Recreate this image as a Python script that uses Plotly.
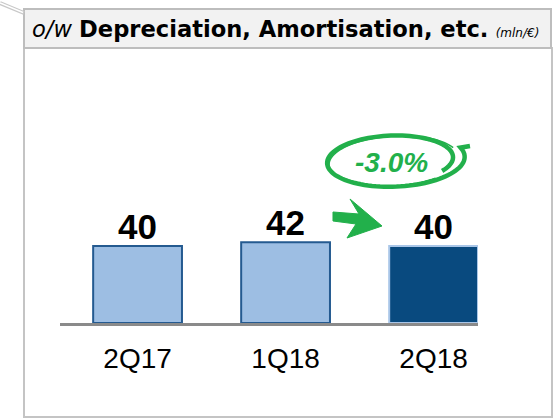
import numpy as np
import plotly.graph_objects as go

# ---- data ----
categories = ["2Q17", "1Q18", "2Q18"]
values = [40, 42, 40]
change_label = "-3.0%"
title_prefix = "o/w"
title_main = "Depreciation, Amortisation, etc."
title_unit = "(mln/€)"

W, H = 558, 419

def px(x):
    return x / W

def py(y):
    return 1 - y / H

light_fill = "#9dbee3"
light_line = "#245a90"
dark_fill = "#094a7f"
dark_line = "#a9c6e8"
green = "#22b04b"

bar_fill = [light_fill, light_fill, dark_fill]
bar_line = [light_line, light_line, dark_line]

fig = go.Figure()
fig.add_trace(go.Bar(
    x=categories, y=values, width=0.6,
    marker=dict(color=bar_fill, line=dict(color=bar_line, width=2)),
    hoverinfo="skip", showlegend=False,
))

# value labels
for c, v in zip(categories, values):
    fig.add_annotation(x=c, y=v, xref="x", yref="y", text=f"<b>{v}</b>",
                       showarrow=False, yanchor="bottom", yshift=-2,
                       font=dict(family="Liberation Sans, Arial", size=35, color="#000000"))

shapes = []
# outer frame
shapes.append(dict(type="rect", xref="paper", yref="paper",
                   x0=px(24), x1=px(552), y0=py(417), y1=py(48),
                   line=dict(color="#c4c4c4", width=2), fillcolor="rgba(0,0,0,0)", layer="below"))
# title box
shapes.append(dict(type="rect", xref="paper", yref="paper",
                   x0=px(24), x1=px(551), y0=py(48), y1=py(9),
                   line=dict(color="#bdbdbd", width=2), fillcolor="#f2f2f2", layer="below"))
# callout line
shapes.append(dict(type="line", xref="paper", yref="paper",
                   x0=px(0), y0=py(3), x1=px(24), y1=py(13),
                   line=dict(color="#c8c8c8", width=4)))
shapes.append(dict(type="line", xref="paper", yref="paper",
                   x0=px(0), y0=py(3), x1=px(23), y1=py(12.5),
                   line=dict(color="#ffffff", width=1.5)))

# green arrow (block arrow)
arrow_pts = [(333, 212), (359, 214), (350, 199), (382, 226), (347, 238), (356, 224), (333, 221)]
path = "M " + " L ".join(f"{px(x):.5f},{py(y):.5f}" for x, y in arrow_pts) + " Z"
shapes.append(dict(type="path", xref="paper", yref="paper", path=path,
                   fillcolor=green, line=dict(color=green, width=1)))

# hand-drawn ellipse around the change label
def ellipse_pts(cx, cy, rx, ry, rot, t0, t1, n=120, f0=1.0, f1=1.0):
    ts = np.linspace(t0, t1, n)
    pts = []
    for i, t in enumerate(ts):
        f = f0 + (f1 - f0) * i / (n - 1)
        ex, ey = rx * f * np.cos(t), ry * f * np.sin(t)
        x = cx + ex * np.cos(rot) - ey * np.sin(rot)
        y = cy + ex * np.sin(rot) + ey * np.cos(rot)
        pts.append((x, y))
    return pts

def to_path(pts):
    return "M " + " L ".join(f"{px(x):.5f},{py(y):.5f}" for x, y in pts)

main = ellipse_pts(393, 160, 67, 26, -0.04, 2 * np.pi + 0.6, -0.35, f0=0.88, f1=1.08)
main.append((470, 146))
shapes.append(dict(type="path", xref="paper", yref="paper", path=to_path(main),
                   line=dict(color=green, width=4.5)))
second = ellipse_pts(394, 161, 65, 25, -0.06, 0.9, 2 * np.pi - 0.4, n=80)
shapes.append(dict(type="path", xref="paper", yref="paper", path=to_path(second),
                   line=dict(color=green, width=1.5)))

fig.add_annotation(x=px(391), y=py(162), xref="paper", yref="paper",
                   text=f"<b><i>{change_label}</i></b>", showarrow=False,
                   xanchor="center", yanchor="middle",
                   font=dict(family="Liberation Sans, Arial", size=28, color=green))

# title
fig.add_annotation(x=px(30), y=py(28.5), xref="paper", yref="paper",
                   xanchor="left", yanchor="middle", showarrow=False,
                   text=(f"<i>{title_prefix}</i> <b>{title_main}</b> "
                         f"<span style='font-size:12px'><i>{title_unit}</i></span>"),
                   font=dict(family="DejaVu Sans", size=22.6, color="#000000"))

fig.update_layout(
    width=W, height=H,
    margin=dict(l=0, r=0, t=0, b=0),
    paper_bgcolor="#ffffff", plot_bgcolor="rgba(0,0,0,0)",
    shapes=shapes,
    bargap=0.4,
    xaxis=dict(domain=[px(60), px(478)], range=[-0.524, 2.30],
               showline=True, linecolor="#8a8a8a", linewidth=2.5,
               ticks="outside", ticklen=9, tickcolor="rgba(0,0,0,0)",
               tickfont=dict(family="Liberation Sans, Arial", size=28, color="#000000"),
               showgrid=False, zeroline=False, fixedrange=True),
    yaxis=dict(domain=[1 - 323 / H, 1], range=[0, 167.8], visible=False,
               showgrid=False, zeroline=False, fixedrange=True),
)

fig.write_html("out.html", config={"displayModeBar": False},
               post_script="document.body.style.margin='0px';document.body.style.overflow='hidden';")
